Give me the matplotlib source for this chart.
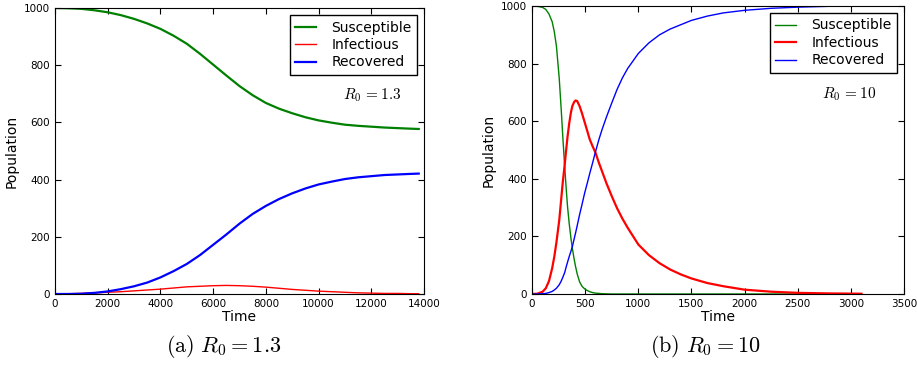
import matplotlib
matplotlib.use('Agg')
import matplotlib.pyplot as plt

plt.rcParams['mathtext.fontset'] = 'cm'

# (a) R0 = 1.3
t_a = [0, 500, 1000, 1500, 2000, 2500, 3000, 3500, 4000, 4500, 5000, 5500,
       6000, 6500, 7000, 7500, 8000, 8500, 9000, 9500, 10000, 10500, 11000,
       11500, 12000, 12500, 13000, 13500, 13800]
s_a = [1000, 999, 997, 992, 985, 975, 962, 946, 927, 903, 875, 840,
       802, 764, 727, 695, 668, 648, 632, 618, 607, 599, 592,
       588, 585, 582, 580, 578, 577]
i_a = [0, 1, 2, 4, 6, 8, 11, 14, 17, 21, 25, 27,
       29, 30, 29, 27, 24, 20, 16, 13, 10, 8, 6,
       4, 3, 2, 2, 1, 1]
r_a = [0, 0, 1, 4, 9, 17, 27, 40, 58, 80, 105, 136,
       172, 208, 246, 280, 308, 332, 352, 369, 383, 393, 402,
       408, 412, 416, 418, 420, 421]

# (b) R0 = 10
t_b = [0, 50, 100, 130, 160, 190, 210, 230, 256, 275, 290, 308, 320, 334,
       350, 366, 380, 397, 410, 425, 448, 470, 495, 520, 543, 570, 596, 630,
       660, 700, 750, 800, 850, 900, 1000, 1100, 1200, 1300, 1400, 1500,
       1650, 1800, 2000, 2250, 2500, 2800, 3100]
s_b = [1000, 999, 995, 988, 972, 945, 910, 860, 750, 640, 545, 440, 375, 305,
       245, 195, 158, 120, 95, 70, 42, 27, 18, 12, 8, 5, 3, 2,
       1, 0.5, 0, 0, 0, 0, 0, 0, 0, 0, 0, 0,
       0, 0, 0, 0, 0, 0, 0]
i_b = [0, 1, 8, 20, 45, 90, 130, 180, 255, 330, 390, 450, 495, 545,
       592, 630, 653, 667, 672, 670, 652, 628, 597, 566, 537, 513, 492, 455,
       425, 385, 340, 298, 262, 230, 172, 135, 107, 85, 68, 54,
       38, 27, 15, 8, 4, 2, 1]
r_b = [0, 0, 1, 2, 5, 9, 14, 20, 32, 45, 58, 75, 92, 110,
       130, 148, 165, 192, 212, 237, 276, 310, 350, 385, 418, 455, 492, 537,
       572, 614, 663, 710, 750, 783, 835, 872, 900, 920, 935, 950,
       965, 976, 985, 992, 996, 999, 1000]

labels = ['Susceptible', 'Infectious', 'Recovered']

fig = plt.figure(figsize=(9.17, 3.67), dpi=100)
ax1 = fig.add_axes([55/917, 73/367, 369/917, 286/367])
ax2 = fig.add_axes([532/917, 73/367, 372/917, 288/367])


def plot_sir(ax, t, s, i, r, widths, xmax, xstep, r0text, textx):
     ax.plot(t, s, color='green', lw=widths[0], label=labels[0])
     ax.plot(t, i, color='red', lw=widths[1], label=labels[1])
     ax.plot(t, r, color='blue', lw=widths[2], label=labels[2])
     ax.set_xlim(0, xmax)
     ax.set_ylim(0, 1000)
     ax.set_xticks(range(0, xmax + 1, xstep))
     ax.set_yticks(range(0, 1001, 200))
     ax.tick_params(direction='in', top=True, right=True, labelsize=7.5, length=4)
     ax.set_xlabel('Time', fontsize=10, labelpad=1)
     ax.set_ylabel('Population', fontsize=10)
     leg = ax.legend(loc='upper right', fontsize=10, fancybox=False,
                     handlelength=1.5, handletextpad=1.1, borderaxespad=0.5,
                     labelspacing=0.25, framealpha=1)
     leg.get_frame().set_edgecolor('black')
     ax.text(textx, 695, r0text, fontsize=11, ha='center', va='center')


plot_sir(ax1, t_a, s_a, i_a, r_a, [1.6, 1.0, 1.6], 14000, 2000, r'$R_0\,{=}1.3$', 12050)
plot_sir(ax2, t_b, s_b, i_b, r_b, [1.0, 1.6, 1.0], 3500, 500, r'$R_0\,{=}10$', 2980)

fig.text(224/917, 1 - 346/367, r'$\mathrm{(a)}\ R_0 = 1.3$', fontsize=16, ha='center', va='center')
fig.text(705/917, 1 - 346/367, r'$\mathrm{(b)}\ R_0 = 10$', fontsize=16, ha='center', va='center')

fig.savefig('out.png', dpi=100)
